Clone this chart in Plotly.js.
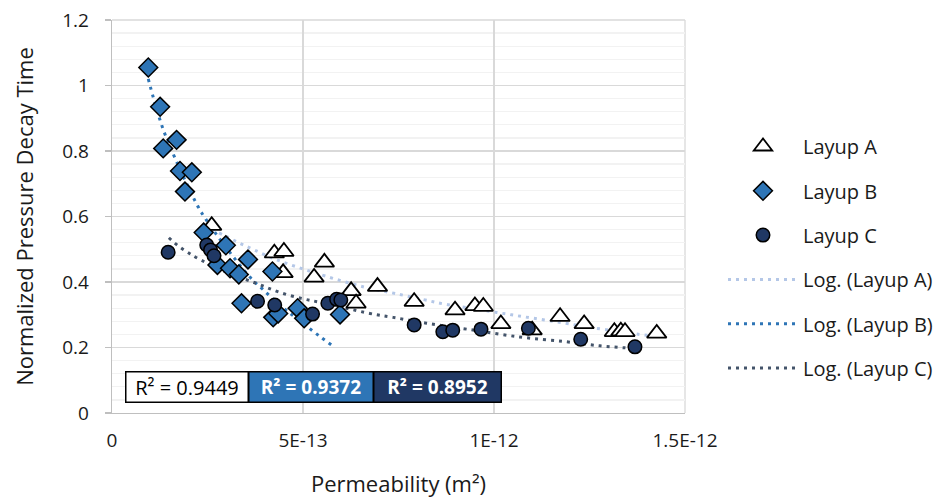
<!DOCTYPE html>
<html>
<head>
<meta charset="utf-8">
<script src="https://cdn.plot.ly/plotly-3.0.1.min.js"></script>
<style>html,body{margin:0;padding:0;background:#fff;}#chart{width:943px;height:499px;}</style>
</head>
<body>
<div id="chart"></div>
<script>
// Layup A (triangles)
const layupA_x = [2.61e-13, 4.25e-13, 4.50e-13, 4.48e-13, 5.56e-13, 5.29e-13, 6.26e-13, 6.39e-13, 6.95e-13, 7.91e-13, 8.98e-13, 9.50e-13, 9.72e-13, 10.18e-13, 11.00e-13, 11.73e-13, 12.36e-13, 13.15e-13, 13.32e-13, 13.43e-13, 14.26e-13];
const layupA_y = [0.572, 0.488, 0.493, 0.428, 0.460, 0.414, 0.373, 0.335, 0.386, 0.340, 0.314, 0.327, 0.325, 0.272, 0.253, 0.294, 0.272, 0.248, 0.250, 0.248, 0.243];
// Layup B (diamonds)
const layupB_x = [0.95e-13, 1.26e-13, 1.69e-13, 1.34e-13, 1.78e-13, 2.09e-13, 1.91e-13, 2.40e-13, 2.98e-13, 2.76e-13, 3.09e-13, 3.32e-13, 3.56e-13, 4.20e-13, 3.39e-13, 4.22e-13, 4.35e-13, 4.86e-13, 5.03e-13, 5.97e-13];
const layupB_y = [1.055, 0.935, 0.834, 0.808, 0.739, 0.735, 0.676, 0.551, 0.512, 0.452, 0.442, 0.423, 0.469, 0.432, 0.335, 0.292, 0.304, 0.320, 0.289, 0.301];
// Layup C (circles)
const layupC_x = [1.47e-13, 2.48e-13, 2.58e-13, 2.67e-13, 3.81e-13, 4.26e-13, 5.25e-13, 5.65e-13, 5.88e-13, 5.99e-13, 7.91e-13, 8.66e-13, 8.92e-13, 9.66e-13, 10.90e-13, 12.27e-13, 13.69e-13];
const layupC_y = [0.491, 0.513, 0.498, 0.480, 0.341, 0.330, 0.302, 0.335, 0.347, 0.345, 0.269, 0.248, 0.253, 0.256, 0.259, 0.225, 0.202];
// Logarithmic trendlines
const logA_x = [2.61e-13, 2.96e-13, 3.35e-13, 3.74e-13, 4.33e-13, 4.97e-13, 5.59e-13, 6.62e-13, 7.45e-13, 8.32e-13, 8.59e-13, 10.07e-13, 10.77e-13, 11.82e-13, 12.60e-13, 13.74e-13, 14.26e-13];
const logA_y = [0.560, 0.541, 0.518, 0.497, 0.467, 0.441, 0.418, 0.384, 0.364, 0.342, 0.335, 0.307, 0.294, 0.275, 0.260, 0.241, 0.234];
const logB_x = [0.95e-13, 1.08e-13, 1.34e-13, 1.67e-13, 2.23e-13, 2.46e-13, 2.90e-13, 3.61e-13, 3.96e-13, 4.44e-13, 4.83e-13, 5.45e-13, 5.79e-13];
const logB_y = [1.020, 0.964, 0.866, 0.773, 0.635, 0.591, 0.519, 0.415, 0.376, 0.325, 0.289, 0.233, 0.204];
const logC_x = [1.49e-13, 1.65e-13, 1.82e-13, 2.02e-13, 2.20e-13, 3.00e-13, 3.80e-13, 4.40e-13, 5.03e-13, 5.45e-13, 6.75e-13, 7.36e-13, 8.24e-13, 9.29e-13, 10.68e-13, 11.86e-13, 12.77e-13, 13.43e-13, 13.69e-13];
const logC_y = [0.535, 0.518, 0.503, 0.488, 0.475, 0.430, 0.395, 0.368, 0.348, 0.338, 0.304, 0.292, 0.274, 0.256, 0.232, 0.218, 0.205, 0.199, 0.196];
// R² labels
const r2_labels = ["R² = 0.9449", "R² = 0.9372", "R² = 0.8952"];
// Tick labels
const xTickVals = [0, 5e-13, 1e-12, 1.5e-12];
const xTickText = ["0", "5E-13", "1E-12", "1.5E-12"];

const FONT = "Open Sans, sans-serif";
const TXT = "#1a1a1a";
const dotDash = "3px,5px";

const traces = [
  {x: logA_x, y: logA_y, name: "Log. (Layup A)", mode: "lines", line: {color: "#b4c7e7", width: 3, dash: dotDash, shape: "spline"}, legendgroup: "g4", legendrank: 4},
  {x: logB_x, y: logB_y, name: "Log. (Layup B)", mode: "lines", line: {color: "#2e75b6", width: 3, dash: dotDash, shape: "spline"}, legendgroup: "g5", legendrank: 5},
  {x: logC_x, y: logC_y, name: "Log. (Layup C)", mode: "lines", line: {color: "#44546a", width: 3, dash: dotDash, shape: "spline"}, legendgroup: "g6", legendrank: 6},
  {x: layupA_x, y: layupA_y, name: "Layup A", mode: "markers", type: "scatter", marker: {symbol: "triangle-up", size: 17, color: "#ffffff", line: {color: "#000000", width: 1.8}}, legendgroup: "g1", legendrank: 1},
  {x: layupB_x, y: layupB_y, name: "Layup B", mode: "markers", type: "scatter", marker: {symbol: "diamond", size: 14.5, color: "#2e75b6", line: {color: "#000000", width: 1.5}}, legendgroup: "g2", legendrank: 2},
  {x: layupC_x, y: layupC_y, name: "Layup C", mode: "markers", type: "scatter", marker: {symbol: "circle", size: 13.5, color: "#203864", line: {color: "#000000", width: 1.5}}, legendgroup: "g3", legendrank: 3}
];

const plotL = 112, plotR = 685, plotT = 20, plotB = 413;
const W = plotR - plotL, H = plotB - plotT;
function px(xp){ return (xp - plotL) / W; }
function py(yp){ return (plotB - yp) / H; }

const boxes = [
  {l: 125, r: 248, bg: "#ffffff", color: "#000000", bold: false},
  {l: 248, r: 373, bg: "#2e75b6", color: "#ffffff", bold: true},
  {l: 373, r: 501, bg: "#203864", color: "#ffffff", bold: true}
];
const annotations = boxes.map((b, i) => ({
  xref: "paper", yref: "paper",
  x: px((b.l + b.r) / 2), y: py(386.5),
  xanchor: "center", yanchor: "middle",
  showarrow: false,
  text: b.bold ? "<b>" + r2_labels[i] + "</b>" : r2_labels[i],
  font: {family: FONT, size: b.bold ? 19 : 20, color: b.color},
  bgcolor: b.bg, bordercolor: "#000000", borderwidth: 1.5, borderpad: 0,
  width: b.r - b.l - 2, height: 29
}));

// plot frame edges (right and top gridlines at the range ends)
const shapes = [
  {type: "line", xref: "paper", yref: "paper", x0: 1, x1: 1, y0: 0, y1: 1, line: {color: "#d9d9d9", width: 1.3}, layer: "below"},
  {type: "line", xref: "paper", yref: "paper", x0: 0, x1: 1, y0: 1, y1: 1, line: {color: "#d9d9d9", width: 1.3}, layer: "below"}
];

const layout = {
  width: 943, height: 499,
  margin: {l: plotL, r: 943 - plotR, t: plotT, b: 499 - plotB, autoexpand: false},
  paper_bgcolor: "#ffffff", plot_bgcolor: "#ffffff",
  font: {family: FONT, color: TXT},
  showlegend: true,
  legend: {
    x: px(723), y: py(127), xanchor: "left", yanchor: "top",
    font: {family: FONT, size: 20, color: TXT},
    itemwidth: 70, tracegroupgap: 15.3, bgcolor: "rgba(0,0,0,0)", borderwidth: 0
  },
  xaxis: {
    range: [0, 1.5e-12], tickvals: xTickVals, ticktext: xTickText,
    showgrid: true, gridcolor: "#d9d9d9", gridwidth: 1.3,
    zeroline: false, showline: true, linecolor: "#bfbfbf", linewidth: 1.3,
    ticks: "", tickfont: {family: FONT, size: 19, color: TXT},
    ticklabelstandoff: 10,
    title: {text: "Permeability (m²)", font: {family: FONT, size: 22, color: TXT}, standoff: 24}
  },
  yaxis: {
    range: [0, 1.2], dtick: 0.2, tick0: 0,
    showgrid: true, gridcolor: "#d9d9d9", gridwidth: 1.3,
    minor: {dtick: 0.04, tick0: 0, showgrid: true, gridcolor: "#f2f2f2", gridwidth: 1.3, ticks: ""},
    zeroline: false, showline: true, linecolor: "#bfbfbf", linewidth: 1.3,
    ticks: "outside", ticklen: 6, tickcolor: "#bfbfbf", tickwidth: 1.3,
    tickfont: {family: FONT, size: 19, color: TXT},
    ticklabelstandoff: 12,
    title: {text: "Normalized Pressure Decay Time", font: {family: FONT, size: 22, color: TXT}, standoff: 22}
  },
  shapes: shapes,
  annotations: annotations
};

Plotly.newPlot("chart", traces, layout, {displayModeBar: false, staticPlot: true});
</script>
</body>
</html>
